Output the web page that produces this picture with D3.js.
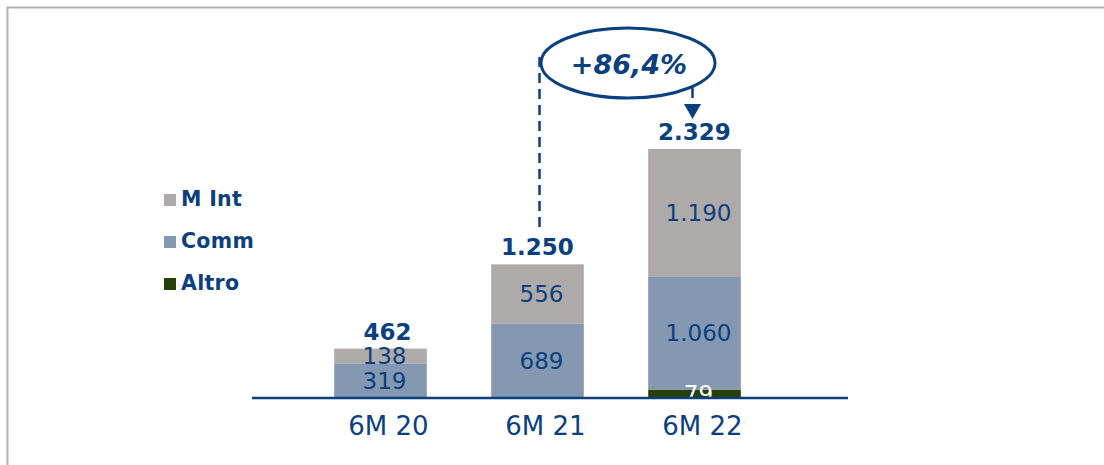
<!DOCTYPE html>
<html>
<head>
<meta charset="utf-8">
<script src="https://cdn.jsdelivr.net/npm/d3@7"></script>
<style>
  html, body { margin: 0; padding: 0; background: #fff; }
  svg { display: block; font-family: "DejaVu Sans", Verdana, sans-serif; }
</style>
</head>
<body>
<svg id="chart" width="1104" height="465"></svg>
<script>
// Data
const categories = ["6M 20", "6M 21", "6M 22"];
const altro = [5, 5, 79];
const comm = [319, 689, 1060];
const mInt = [138, 556, 1190];
const totals = [462, 1250, 2329];
const growthLabel = "+86,4%";

const seriesNames = ["Altro", "Comm", "M Int"];
const seriesColors = { "Altro": "#27400a", "Comm": "#8498b1", "M Int": "#afaaaa" };
const navy = "#0b407f";

const rows = categories.map((c, i) => ({ cat: c, "Altro": altro[i], "Comm": comm[i], "M Int": mInt[i] }));

const svg = d3.select("#chart");

// outer frame
svg.append("rect")
  .attr("x", 7.5).attr("y", 7.5)
  .attr("width", 1200).attr("height", 600)
  .attr("fill", "none").attr("stroke", "#b3b3b3").attr("stroke-width", 2);

const baseY = 398;
const x = d3.scaleBand().domain(categories).range([302, 773]).paddingInner(0.41).paddingOuter(0.205);
const y = d3.scaleLinear().domain([0, 2329]).range([baseY, 149]);

const stack = d3.stack().keys(seriesNames)(rows);

// stacked bars
const layers = svg.append("g").selectAll("g").data(stack).join("g")
  .attr("fill", d => seriesColors[d.key]);
layers.selectAll("rect").data(d => d).join("rect")
  .attr("x", d => x(d.data.cat))
  .attr("y", d => y(d[1]))
  .attr("width", x.bandwidth())
  .attr("height", d => y(d[0]) - y(d[1]));

// segment labels
const labelOffset = 4;
const segLabels = [];
stack.forEach(layer => {
  layer.forEach(d => {
    const v = d.data[layer.key];
    if (layer.key === "Altro" && v < 20) return;
    segLabels.push({ key: layer.key, cat: d.data.cat, v, mid: (y(d[0]) + y(d[1])) / 2 });
  });
});
const fmt = v => d3.format(",")(v).replace(/,/g, ".");
svg.append("g").selectAll("text").data(segLabels).join("text")
  .attr("x", d => x(d.cat) + x.bandwidth() / 2 + labelOffset)
  .attr("y", d => d.mid)
  .attr("dy", "0.36em")
  .attr("text-anchor", "middle")
  .attr("font-size", 23)
  .attr("fill", d => d.key === "Altro" ? "#ffffff" : navy)
  .text(d => fmt(d.v));

// totals
svg.append("g").selectAll("text").data(categories).join("text")
  .attr("x", (c, i) => x(c) + x.bandwidth() / 2 + (i === 0 ? 7 : 0))
  .attr("y", (c, i) => y(totals[i]) - 9)
  .attr("text-anchor", "middle")
  .attr("font-size", 23)
  .attr("font-weight", "bold")
  .attr("fill", navy)
  .text((c, i) => fmt(totals[i]));

// baseline
svg.append("line")
  .attr("x1", 252).attr("x2", 848)
  .attr("y1", baseY).attr("y2", baseY)
  .attr("stroke", navy).attr("stroke-width", 2.5);

// category labels
svg.append("g").selectAll("text").data(categories).join("text")
  .attr("x", c => x(c) + x.bandwidth() / 2 + 8)
  .attr("y", 435)
  .attr("text-anchor", "middle")
  .attr("font-size", 26)
  .attr("fill", navy)
  .text(c => c);

// legend
const legendOrder = ["M Int", "Comm", "Altro"];
const legend = svg.append("g").selectAll("g").data(legendOrder).join("g")
  .attr("transform", (d, i) => `translate(164, ${206 + i * 42})`);
legend.append("rect")
  .attr("x", 0).attr("y", -12)
  .attr("width", 12).attr("height", 12)
  .attr("fill", d => seriesColors[d]);
legend.append("text")
  .attr("x", 17).attr("y", 0)
  .attr("font-size", 20.5)
  .attr("font-weight", "bold")
  .attr("letter-spacing", 0.3)
  .attr("fill", navy)
  .text(d => d);

// growth annotation
const xFrom = x(categories[1]) + x.bandwidth() / 2 + 2;
const xTo = x(categories[2]) + x.bandwidth() / 2 - 2;
const ann = svg.append("g").attr("stroke", navy).attr("fill", "none");
ann.append("line")
  .attr("x1", xFrom).attr("x2", xFrom)
  .attr("y1", 57).attr("y2", y(totals[1]) - 32)
  .attr("stroke-width", 2.5).attr("stroke-dasharray", "10,6");
ann.append("line")
  .attr("x1", xTo).attr("x2", xTo)
  .attr("y1", 87).attr("y2", 98)
  .attr("stroke-width", 2.5);
ann.append("ellipse")
  .attr("cx", 628).attr("cy", 63)
  .attr("rx", 87).attr("ry", 35)
  .attr("stroke-width", 3);
svg.append("path")
  .attr("d", `M${xTo - 8.5},104 L${xTo + 8.5},104 L${xTo},119 Z`)
  .attr("fill", navy);
svg.append("text")
  .attr("x", 629).attr("y", 74)
  .attr("text-anchor", "middle")
  .attr("font-size", 27)
  .attr("font-weight", "bold")
  .attr("font-style", "italic")
  .attr("fill", navy)
  .text(growthLabel);
</script>
</body>
</html>
